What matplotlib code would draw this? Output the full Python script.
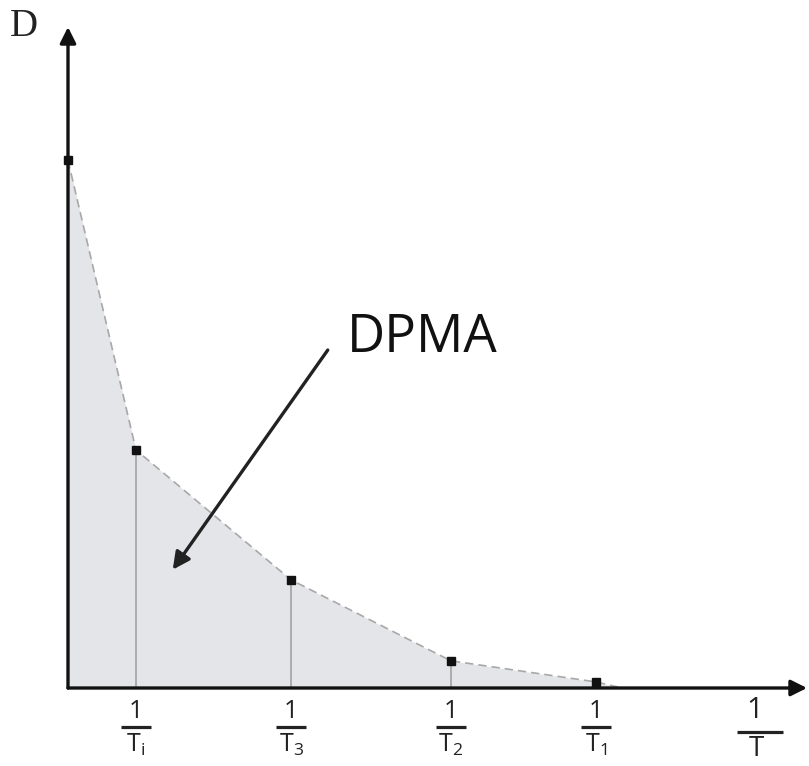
import numpy as np
import matplotlib.pyplot as plt

plt.rcParams['mathtext.fontset'] = 'custom'
plt.rcParams['mathtext.rm'] = 'Open Sans'
plt.rcParams['mathtext.it'] = 'Open Sans'

# curve points: 1/T position and D value
inv_T = [0.0, 1.0, 3.28, 5.63, 7.76, 8.15]
D = [7.76, 3.5, 1.59, 0.40, 0.09, 0.0]

# tick positions (where the markers sit) and their subscripts
tick_x = [1.0, 3.28, 5.63, 7.76]
tick_sub = ['i', '3', '2', '1']

fig = plt.figure(figsize=(8.09, 7.66), dpi=100)
ax = fig.add_axes([68 / 809, 78 / 766, (809 - 68) / 809, (688 - 0) / 766])
ax.set_xlim(0, 741 / 68)
ax.set_ylim(0, 688 / 68)
ax.axis('off')

# shaded area under curve
ax.fill_between(inv_T, D, 0, color='#e3e5e8', lw=0, zorder=1)
ax.plot(inv_T, D, ls=(0, (5, 3)), color='#a8a8a8', lw=1.2, zorder=2)

# vertical drop lines
for x, y in zip(inv_T[1:5], D[1:5]):
    ax.plot([x, x], [0, y], color='#a8a8a8', lw=1.3, zorder=2)

# axes with arrows
ax.annotate('', xy=(739 / 68, 0), xytext=(0, 0),
            arrowprops=dict(arrowstyle='-|>', lw=2.4, color='#111111',
                            mutation_scale=24, shrinkA=0, shrinkB=0),
            annotation_clip=False, zorder=6)
ax.annotate('', xy=(0, 661 / 68), xytext=(0, 0),
            arrowprops=dict(arrowstyle='-|>', lw=2.4, color='#111111',
                            mutation_scale=24, shrinkA=0, shrinkB=0),
            annotation_clip=False, zorder=6)

ax.plot(inv_T[:5], D[:5], ls='none', marker='s', ms=5.5, color='#111111',
        zorder=8, clip_on=False)

# tick labels as fractions
for x, s in zip(tick_x, tick_sub):
    ax.annotate('1', xy=(x, 0), xytext=(0, -24), textcoords='offset pixels',
                ha='center', va='center', fontsize=18, family='Open Sans',
                color='#222222', annotation_clip=False)
    ax.plot([x - 0.22, x + 0.22], [-39 / 68, -39 / 68], color='#222222', lw=2.3,
            clip_on=False, solid_capstyle='butt')
    ax.annotate(r'$\mathrm{T}_{\mathrm{' + s + '}}$', xy=(x, 0), xytext=(0, -57),
                textcoords='offset pixels', ha='center', va='center', fontsize=18,
                color='#222222', annotation_clip=False)

# axis titles
ax.text(10.1, -22 / 68, '1', ha='center', va='center', fontsize=21,
        family='Open Sans', color='#222222')
ax.plot([669 / 68, 715 / 68], [-44 / 68, -44 / 68], color='#222222', lw=2.3,
        clip_on=False, solid_capstyle='butt')
ax.text(10.12, -61 / 68, 'T', ha='center', va='center', fontsize=20,
        family='Open Sans', color='#222222', clip_on=False)
ax.text(-58 / 68, 662 / 68, 'D', ha='left', va='center', fontsize=28,
        family='Liberation Serif', color='#222222')

# DPMA label and pointer
ax.text(4.1, 4.94, 'DPMA', ha='left', va='baseline', fontsize=38,
        family='Open Sans', color='#111111')
ax.annotate('', xy=(1.54, 1.74), xytext=(3.82, 4.97),
            arrowprops=dict(arrowstyle='-|>', lw=2.4, color='#222222',
                            mutation_scale=26, shrinkA=0, shrinkB=0))

fig.savefig('out.png', dpi=100)
